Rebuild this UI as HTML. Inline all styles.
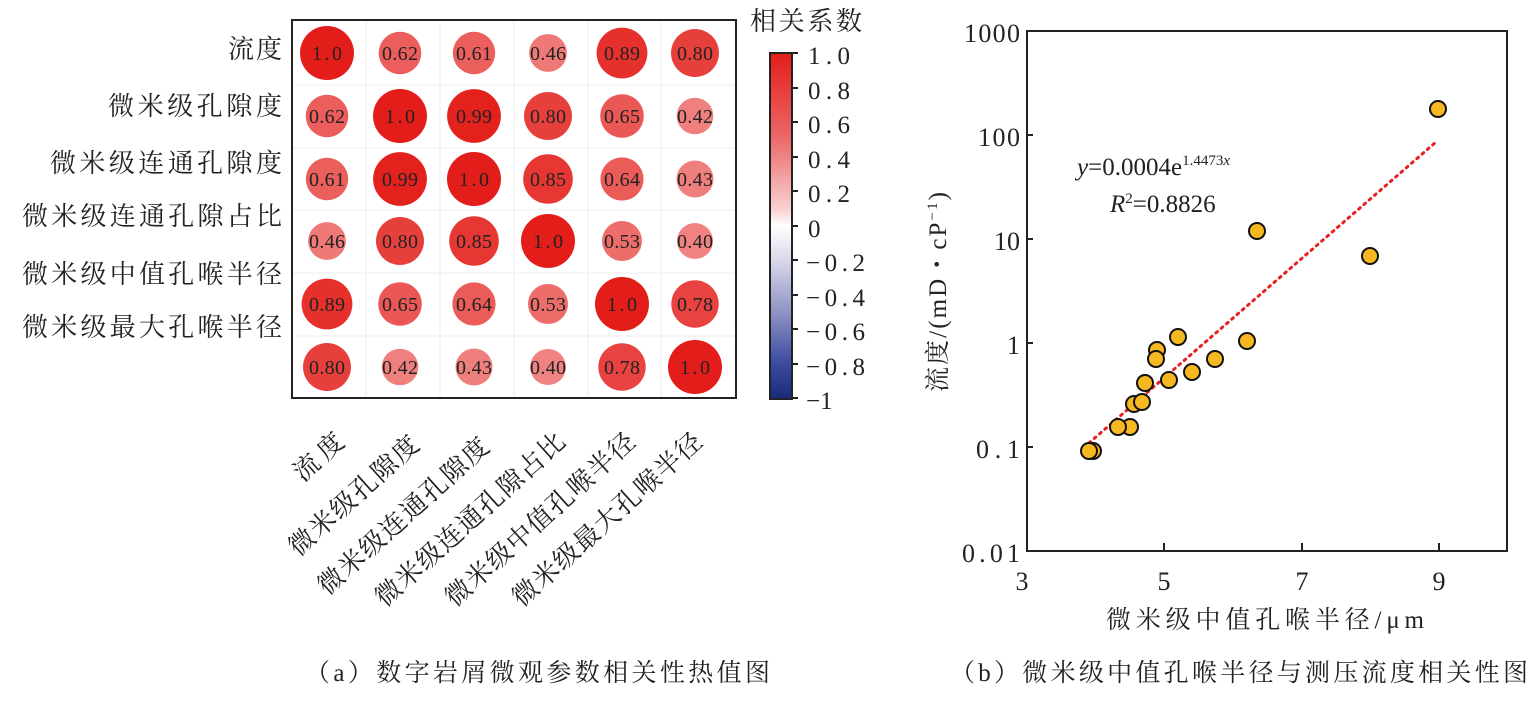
<!DOCTYPE html>
<html><head><meta charset="utf-8"><style>
html,body{margin:0;padding:0;background:#fff}
svg{display:block}
text{font-family:"Liberation Serif","Noto Serif CJK SC",serif;fill:#222}
</style></head><body>
<svg width="1536" height="705" viewBox="0 0 1536 705" xmlns="http://www.w3.org/2000/svg">
<defs>
<linearGradient id="cb" x1="0" y1="0" x2="0" y2="1">
<stop offset="0" stop-color="#e31e1a"/>
<stop offset="0.25" stop-color="#ec6a6a"/>
<stop offset="0.45" stop-color="#f8d0d0"/>
<stop offset="0.5" stop-color="#ffffff"/>
<stop offset="0.6" stop-color="#d8d8ea"/>
<stop offset="0.75" stop-color="#8e92c4"/>
<stop offset="0.9" stop-color="#3b4aa0"/>
<stop offset="1" stop-color="#1a2a7a"/>
</linearGradient>
</defs>
<g stroke="#eee" stroke-width="1">
<line x1="366" y1="20" x2="366" y2="398"/><line x1="440" y1="20" x2="440" y2="398"/>
<line x1="514" y1="20" x2="514" y2="398"/><line x1="588" y1="20" x2="588" y2="398"/>
<line x1="661" y1="20" x2="661" y2="398"/>
<line x1="292" y1="85" x2="736" y2="85"/><line x1="292" y1="148" x2="736" y2="148"/>
<line x1="292" y1="210" x2="736" y2="210"/><line x1="292" y1="273" x2="736" y2="273"/>
<line x1="292" y1="336" x2="736" y2="336"/>
</g>
<g fill="#e31e1a">
<circle cx="327" cy="53" r="27"/>
<circle cx="400" cy="53" r="21.3" fill-opacity="0.715"/>
<circle cx="474" cy="53" r="21.2" fill-opacity="0.71"/>
<circle cx="548" cy="53" r="18.9" fill-opacity="0.595"/>
<circle cx="622" cy="53" r="25.4" fill-opacity="0.92"/>
<circle cx="695" cy="53" r="24" fill-opacity="0.85"/>

<circle cx="327" cy="116" r="21.3" fill-opacity="0.715"/>
<circle cx="400" cy="116" r="27"/>
<circle cx="474" cy="116" r="26.9" fill-opacity="0.99"/>
<circle cx="548" cy="116" r="24" fill-opacity="0.85"/>
<circle cx="622" cy="116" r="21.8" fill-opacity="0.74"/>
<circle cx="695" cy="116" r="18.3" fill-opacity="0.565"/>

<circle cx="327" cy="179" r="21.2" fill-opacity="0.71"/>
<circle cx="400" cy="179" r="26.9" fill-opacity="0.99"/>
<circle cx="474" cy="179" r="27"/>
<circle cx="548" cy="179" r="24.8" fill-opacity="0.89"/>
<circle cx="622" cy="179" r="21.6" fill-opacity="0.73"/>
<circle cx="695" cy="179" r="18.5" fill-opacity="0.57"/>

<circle cx="327" cy="241" r="18.9" fill-opacity="0.595"/>
<circle cx="400" cy="241" r="24" fill-opacity="0.85"/>
<circle cx="474" cy="241" r="24.8" fill-opacity="0.89"/>
<circle cx="548" cy="241" r="27"/>
<circle cx="622" cy="241" r="20" fill-opacity="0.65"/>
<circle cx="695" cy="241" r="18" fill-opacity="0.55"/>

<circle cx="327" cy="304" r="25.4" fill-opacity="0.92"/>
<circle cx="400" cy="304" r="21.8" fill-opacity="0.74"/>
<circle cx="474" cy="304" r="21.6" fill-opacity="0.73"/>
<circle cx="548" cy="304" r="20" fill-opacity="0.65"/>
<circle cx="622" cy="304" r="27"/>
<circle cx="695" cy="304" r="23.7" fill-opacity="0.835"/>

<circle cx="327" cy="367" r="24" fill-opacity="0.85"/>
<circle cx="400" cy="367" r="18.3" fill-opacity="0.565"/>
<circle cx="474" cy="367" r="18.5" fill-opacity="0.57"/>
<circle cx="548" cy="367" r="18" fill-opacity="0.55"/>
<circle cx="622" cy="367" r="23.7" fill-opacity="0.835"/>
<circle cx="695" cy="367" r="27"/>
</g>
<g font-size="20" text-anchor="middle">
<text x="327" y="60" textLength="30">1.0</text><text x="400" y="60" textLength="36">0.62</text><text x="474" y="60" textLength="36">0.61</text><text x="548" y="60" textLength="36">0.46</text><text x="622" y="60" textLength="36">0.89</text><text x="695" y="60" textLength="36">0.80</text>
<text x="327" y="123" textLength="36">0.62</text><text x="400" y="123" textLength="30">1.0</text><text x="474" y="123" textLength="36">0.99</text><text x="548" y="123" textLength="36">0.80</text><text x="622" y="123" textLength="36">0.65</text><text x="695" y="123" textLength="36">0.42</text>
<text x="327" y="186" textLength="36">0.61</text><text x="400" y="186" textLength="36">0.99</text><text x="474" y="186" textLength="30">1.0</text><text x="548" y="186" textLength="36">0.85</text><text x="622" y="186" textLength="36">0.64</text><text x="695" y="186" textLength="36">0.43</text>
<text x="327" y="248" textLength="36">0.46</text><text x="400" y="248" textLength="36">0.80</text><text x="474" y="248" textLength="36">0.85</text><text x="548" y="248" textLength="30">1.0</text><text x="622" y="248" textLength="36">0.53</text><text x="695" y="248" textLength="36">0.40</text>
<text x="327" y="311" textLength="36">0.89</text><text x="400" y="311" textLength="36">0.65</text><text x="474" y="311" textLength="36">0.64</text><text x="548" y="311" textLength="36">0.53</text><text x="622" y="311" textLength="30">1.0</text><text x="695" y="311" textLength="36">0.78</text>
<text x="327" y="374" textLength="36">0.80</text><text x="400" y="374" textLength="36">0.42</text><text x="474" y="374" textLength="36">0.43</text><text x="548" y="374" textLength="36">0.40</text><text x="622" y="374" textLength="36">0.78</text><text x="695" y="374" textLength="30">1.0</text>
</g>
<rect x="292" y="20" width="444" height="378" fill="none" stroke="#222" stroke-width="2"/>
<g font-size="26" text-anchor="end">
<text x="282" y="58" textLength="54">流度</text>
<text x="282" y="115" textLength="174">微米级孔隙度</text>
<text x="282" y="172" textLength="232">微米级连通孔隙度</text>
<text x="282" y="225" textLength="260">微米级连通孔隙占比</text>
<text x="282" y="283" textLength="260">微米级中值孔喉半径</text>
<text x="282" y="336" textLength="260">微米级最大孔喉半径</text>
</g>
<g font-size="26" text-anchor="end">
<text transform="translate(346,444) rotate(-42)" textLength="58">流度</text>
<text transform="translate(421,447) rotate(-42)" textLength="165">微米级孔隙度</text>
<text transform="translate(491,449) rotate(-42)" textLength="220">微米级连通孔隙度</text>
<text transform="translate(567,444) rotate(-42)" textLength="245">微米级连通孔隙占比</text>
<text transform="translate(637,444) rotate(-42)" textLength="245">微米级中值孔喉半径</text>
<text transform="translate(704,444) rotate(-42)" textLength="245">微米级最大孔喉半径</text>
</g>
<text x="806" y="30" font-size="26" text-anchor="middle" textLength="112">相关系数</text>
<rect x="770" y="53" width="22" height="346" fill="url(#cb)" stroke="#222" stroke-width="2"/>
<g stroke="#222" stroke-width="2">
<line x1="792" y1="53" x2="798" y2="53"/><line x1="792" y1="88" x2="798" y2="88"/>
<line x1="792" y1="122" x2="798" y2="122"/><line x1="792" y1="157" x2="798" y2="157"/>
<line x1="792" y1="191" x2="798" y2="191"/><line x1="792" y1="226" x2="798" y2="226"/>
<line x1="792" y1="260" x2="798" y2="260"/><line x1="792" y1="295" x2="798" y2="295"/>
<line x1="792" y1="329" x2="798" y2="329"/><line x1="792" y1="364" x2="798" y2="364"/>
<line x1="792" y1="398" x2="798" y2="398"/>
</g>
<g font-size="25">
<text x="808" y="64" textLength="42">1.0</text><text x="808" y="99" textLength="42">0.8</text><text x="808" y="133" textLength="42">0.6</text>
<text x="808" y="168" textLength="42">0.4</text><text x="808" y="202" textLength="42">0.2</text><text x="808" y="237">0</text>
<text x="806" y="271" textLength="59">−0.2</text><text x="806" y="306" textLength="59">−0.4</text><text x="806" y="340" textLength="59">−0.6</text>
<text x="806" y="375" textLength="59">−0.8</text><text x="806" y="409">−1</text>
</g>
<rect x="1027" y="31" width="480" height="520" fill="none" stroke="#222" stroke-width="2"/>
<g stroke="#222" stroke-width="2">
<line x1="1027" y1="135" x2="1033" y2="135"/><line x1="1027" y1="239" x2="1033" y2="239"/>
<line x1="1027" y1="343" x2="1033" y2="343"/><line x1="1027" y1="447" x2="1033" y2="447"/>
<line x1="1164" y1="551" x2="1164" y2="543"/><line x1="1302" y1="551" x2="1302" y2="543"/>
<line x1="1439" y1="551" x2="1439" y2="543"/>
</g>
<g font-size="26" text-anchor="end">
<text x="1020" y="42" textLength="56">1000</text><text x="1020" y="146" textLength="42">100</text><text x="1020" y="250">10</text>
<text x="1020" y="354">1</text><text x="1020" y="458" textLength="44">0.1</text><text x="1020" y="562" textLength="58">0.01</text>
</g>
<g font-size="26" text-anchor="middle">
<text x="1022" y="590">3</text><text x="1164" y="590">5</text><text x="1302" y="590">7</text><text x="1439" y="590">9</text>
</g>
<text x="1265" y="628" font-size="25" text-anchor="middle" textLength="318">微米级中值孔喉半径/μm</text>
<text transform="translate(946,292) rotate(-90)" font-size="25" text-anchor="middle" textLength="200">流度/(mD・cP<tspan font-size="15" dy="-9">−1</tspan><tspan dy="9">)</tspan></text>
<line x1="1089" y1="443" x2="1436" y2="142" stroke="#e82020" stroke-width="3" stroke-dasharray="2 5" stroke-linecap="round"/>
<g fill="#f5b820" stroke="#111" stroke-width="2">
<circle cx="1093" cy="451" r="8"/><circle cx="1089" cy="451" r="8"/>
<circle cx="1130" cy="427" r="8"/><circle cx="1118" cy="427" r="8"/>
<circle cx="1134" cy="404" r="8"/><circle cx="1142" cy="402" r="8"/>
<circle cx="1145" cy="383" r="8"/><circle cx="1169" cy="380" r="8"/>
<circle cx="1192" cy="372" r="8"/><circle cx="1215" cy="359" r="8"/>
<circle cx="1157" cy="350" r="8"/><circle cx="1156" cy="359" r="8"/>
<circle cx="1178" cy="337" r="8"/><circle cx="1247" cy="341" r="8"/>
<circle cx="1257" cy="231" r="8"/><circle cx="1370" cy="256" r="8"/>
<circle cx="1438" cy="109" r="8"/>
</g>
<text x="1077" y="175" font-size="25"><tspan font-style="italic">y</tspan>=0.0004e<tspan font-size="15" dy="-10">1.4473</tspan><tspan font-size="15" font-style="italic">x</tspan></text>
<text x="1110" y="212" font-size="25"><tspan font-style="italic">R</tspan><tspan font-size="15" dy="-9">2</tspan><tspan dy="9">=0.8826</tspan></text>
<text x="305" y="681" font-size="25" textLength="465">（a）数字岩屑微观参数相关性热值图</text>
<text x="950" y="681" font-size="25" textLength="578">（b）微米级中值孔喉半径与测压流度相关性图</text>
</svg>
</body></html>
